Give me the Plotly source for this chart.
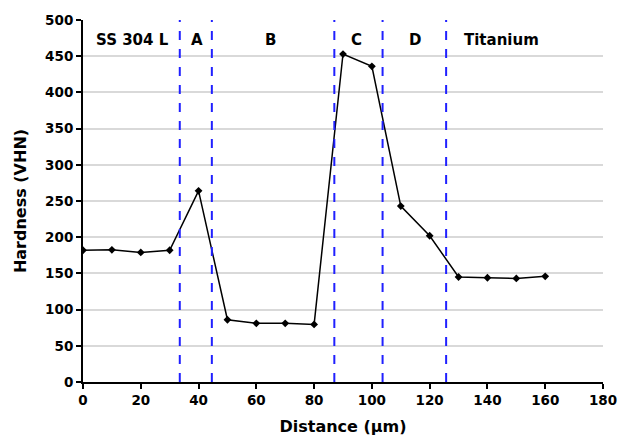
import plotly.graph_objects as go

distance = [0, 10, 20, 30, 40, 50, 60, 70, 80, 90, 100, 110, 120, 130, 140, 150, 160]
hardness = [182, 182.5, 179, 182, 264, 86, 81, 81, 79.5, 453, 436, 243, 202, 145, 144, 143, 146]

boundaries = [33.5, 44.6, 87.0, 103.7, 125.7]
region_labels = ["SS 304 L", "A", "B", "C", "D", "Titanium"]
region_x = [17, 39.4, 65, 94.5, 115, 145]
label_y = 472

FONT = "DejaVu Sans"

fig = go.Figure()
fig.add_trace(go.Scatter(
    x=distance, y=hardness, mode="lines+markers",
    line=dict(color="black", width=1.5),
    marker=dict(symbol="diamond", size=6, color="black"),
    showlegend=False,
))

for b in boundaries:
    fig.add_shape(type="line", x0=b, x1=b, y0=0, y1=500, xref="x", yref="y",
                  line=dict(color="#2020ff", width=2, dash="dash"))

for t, x in zip(region_labels, region_x):
    fig.add_annotation(x=x, y=label_y, text=t, showarrow=False,
                       font=dict(family=FONT, size=15, color="black", weight="bold"))

fig.update_layout(
    width=618, height=436,
    margin=dict(l=83, r=15, t=20, b=54),
    paper_bgcolor="white", plot_bgcolor="white",
    font=dict(family=FONT, color="black"),
    xaxis=dict(range=[0, 180], tickvals=list(range(0, 181, 20)),
               showline=True, linecolor="black", linewidth=2,
               ticks="outside", tickcolor="black", ticklen=5, tickwidth=2,
               showgrid=False, zeroline=False, automargin=False,
               tickfont=dict(family=FONT, size=13.5, color="black", weight="bold"),
               title=dict(text="Distance (μm)", font=dict(family=FONT, size=16, weight="bold"), standoff=14)),
    yaxis=dict(range=[0, 500], tickvals=list(range(0, 501, 50)),
               showline=True, linecolor="black", linewidth=2,
               ticks="outside", tickcolor="black", ticklen=5, tickwidth=2,
               showgrid=True, gridcolor="#d9d9d9", gridwidth=1.5, zeroline=False, automargin=False,
               tickfont=dict(family=FONT, size=13.5, color="black", weight="bold"),
               title=dict(text="Hardness (VHN)", font=dict(family=FONT, size=16, weight="bold"), standoff=15)),
)

fig.write_html("out.html")
